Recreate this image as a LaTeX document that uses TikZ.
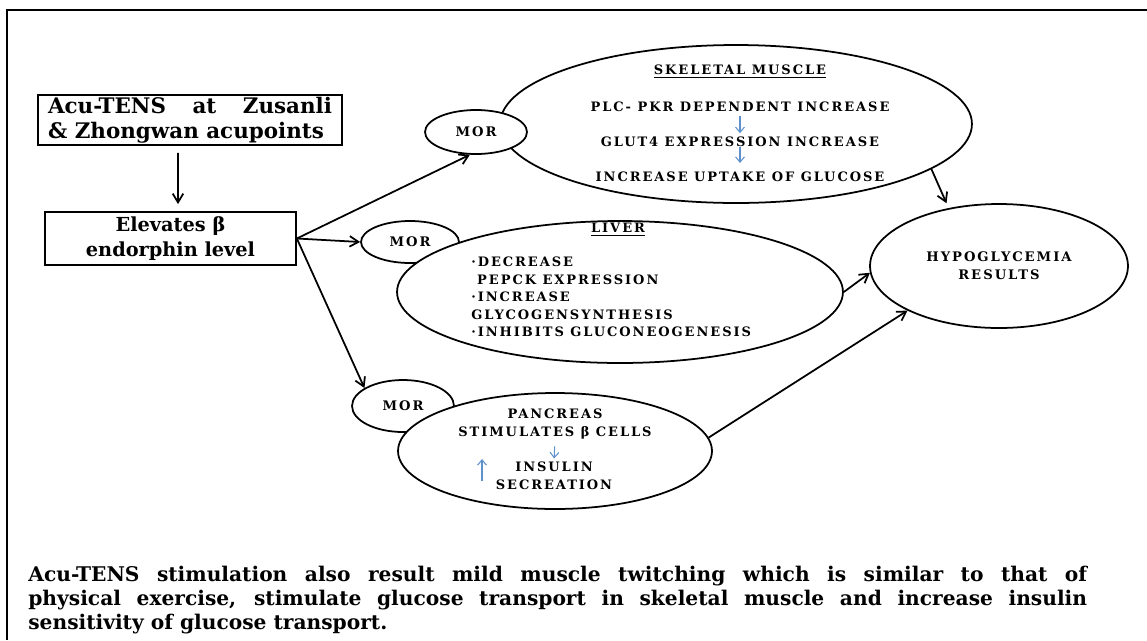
\documentclass[tikz,border=0pt]{standalone}
\usepackage{fontspec}
\setmainfont{DejaVu Serif}
\newfontfamily\organfont[LetterSpace=15]{DejaVu Serif}
\usetikzlibrary{shapes.geometric,arrows.meta,positioning}
\definecolor{bluearrow}{RGB}{95,145,205}
\tikzset
{
    stepbox/.style   = {rectangle, draw=black, line width=1pt, align=center, inner sep=0pt, font=\bfseries\fontsize{11}{14}\selectfont},
    morbubble/.style = {ellipse, draw=black, line width=1pt, fill=white, inner sep=0pt, minimum width=2.04cm, minimum height=0.88cm, font=\organfont\bfseries\fontsize{7.5}{9}\selectfont},
    organ/.style     = {ellipse, draw=black, line width=1pt, fill=white, inner sep=0pt, align=center},
    organtext/.style = {inner sep=0pt, font=\organfont\bfseries\fontsize{7.4}{10}\selectfont},
    link/.style      = {-{Straight Barb[length=5pt,width=6pt]}, line width=1pt},
    bluelink/.style  = {-{Straight Barb[length=3pt,width=5pt]}, draw=bluearrow, line width=0.6pt}
}

\begin{document}
\begin{tikzpicture}[x=0.02cm, y=-0.02cm]
\useasboundingbox (0,0) rectangle (1147,640);
\draw[line width=1.2pt] (7,640) -- (7,10) -- (1147,10);

\node[stepbox, minimum width=6.08cm, minimum height=1cm, text width=5.68cm, align=justify, font=\bfseries\fontsize{12.2}{14}\selectfont] (acu) at (190,120)
    {Acu-TENS at Zusanli\linebreak \& Zhongwan acupoints};
\node[stepbox, minimum width=5.02cm, minimum height=1.06cm] (elev) at (170.5,238.5)
    {Elevates β\\endorphin level};

\node[organ, minimum width=9.44cm, minimum height=3.16cm] (skel) at (736,124) {};
\node[morbubble] (mor1) at (476,132) {MOR};
\node[morbubble, minimum width=1.96cm, minimum height=0.84cm] (mor2) at (410,242) {MOR};
\node[organ, minimum width=8.92cm, minimum height=2.84cm] (liver) at (620,292) {};
\node[morbubble, minimum height=1.04cm] (mor3) at (403,406) {MOR};
\node[organ, minimum width=6.28cm, minimum height=2.32cm] (panc) at (555,451) {};
\node[organ, minimum width=5.16cm, minimum height=2.48cm, font=\organfont\bfseries\fontsize{7.5}{10.2}\selectfont] (hypo) at (999,266)
    {HYPOGLYCEMIA\\RESULTS};

\node[organtext] (skeltitle) at (740,72) {\underline{SKELETAL MUSCLE}};
\node[organtext] (plc) at (740,107) {PLC- PKR DEPENDENT INCREASE};
\node[organtext] (glut) at (740,142) {GLUT4 EXPRESSION INCREASE};
\node[organtext] (uptake) at (740,177) {INCREASE UPTAKE OF GLUCOSE};

\node[organtext] (livertitle) at (618,230) {\underline{LIVER}};
\node[organtext, anchor=west, align=left] (livertext) at (471,297)
    {·DECREASE\\\hspace*{0.45em}PEPCK EXPRESSION\\·INCREASE\\GLYCOGENSYNTHESIS\\·INHIBITS GLUCONEOGENESIS};

\node[organtext, align=center] (stim) at (555,424) {PANCREAS\\STIMULATES β CELLS};
\node[organtext, align=center] (insulin) at (554,476) {INSULIN\\SECREATION};
\coordinate (upA) at (482,481);
\coordinate (upB) at (482,459);

\draw[link, shorten <=4pt, shorten >=4pt] ([xshift=-0.24cm]acu.south) -- ([xshift=0.15cm]elev.north);
\draw[link] (elev.east) -- (mor1.255);
\draw[link] (elev.east) -- (mor2.west);
\draw[link] (elev.east) -- (mor3.155);
\draw[link, shorten >=3pt] (skel.-13) -- (hypo.131);
\draw[link] (liver.east) -- (hypo.183);
\draw[link] (panc.5) -- (hypo.206);

\draw[bluelink, shorten <=2pt, shorten >=2pt] (plc) -- (glut);
\draw[bluelink, shorten >=5pt] (glut) -- (uptake);
\draw[bluelink, shorten <=4pt, shorten >=2pt] (stim.south) -- (insulin.north);
\draw[bluelink] (upA) -- (upB);

\node[anchor=west, inner sep=0pt, text width=21.18cm, align=justify, font=\bfseries\fontsize{11.5}{13.9}\selectfont] (caption) at (28,600)
    {Acu-TENS stimulation also result mild muscle twitching which is similar to that of\linebreak
     physical exercise, stimulate glucose transport in skeletal muscle and increase insulin\linebreak
     sensitivity of glucose transport.};
\end{tikzpicture}
\end{document}
